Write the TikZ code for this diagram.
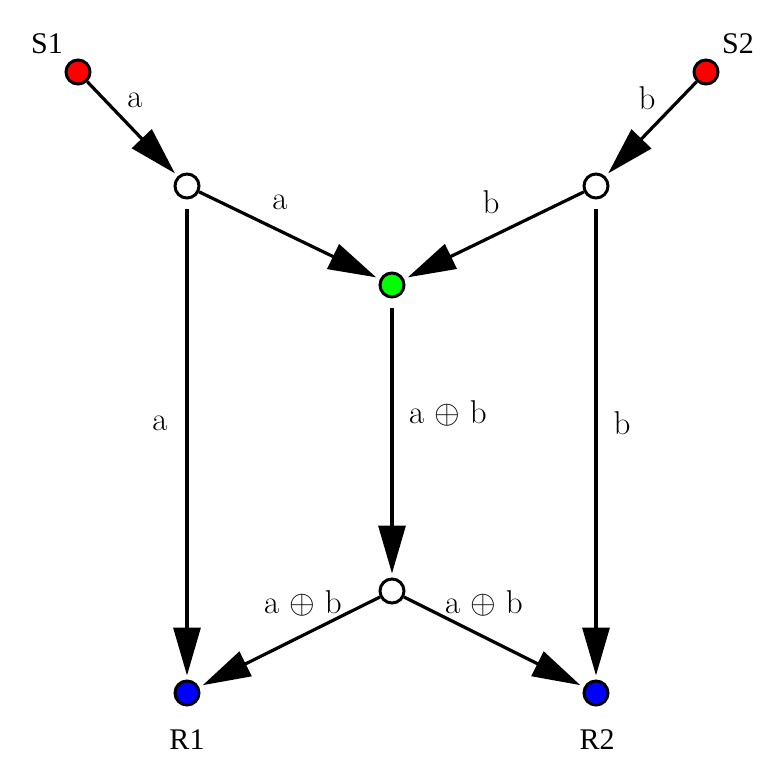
\RequirePackage{fix-cm}
\documentclass[tikz,border=0pt]{standalone}
\usepackage{fontspec}
\newfontfamily\vertexfont{Liberation Serif}
\usetikzlibrary{arrows.meta}
\tikzset{
  vertex/.style={circle, draw=black, line width=3pt, minimum size=24pt, inner sep=0pt},
  flow/.style={line width=3.2pt, -{Triangle[length=48pt,width=27pt]}, shorten >=4pt},
  gap/.style={shorten <=9pt},
  vlabel/.style={font=\vertexfont\fontsize{30}{32}\selectfont},
  elabel/.style={font=\fontsize{33}{36}\selectfont}
}
\begin{document}
\begin{tikzpicture}[x=1pt, y=-1pt]
  \useasboundingbox (0, 0) rectangle (778, 771);
  % vertices
  \node[vertex, fill=red] (s1) at (78, 72) {};
  \node[vertex, fill=red] (s2) at (706, 72) {};
  \node[vertex, fill=white] (u1) at (187, 186) {};
  \node[vertex, fill=white] (u2) at (596, 186) {};
  \node[vertex, fill=green] (mix) at (392, 285) {};
  \node[vertex, fill=white] (u3) at (392, 591) {};
  \node[vertex, fill=blue] (r1) at (187, 693) {};
  \node[vertex, fill=blue] (r2) at (596, 693) {};
  % vertex names
  \node[vlabel] (s1name) at (47, 44) {S1};
  \node[vlabel] (s2name) at (738, 44) {S2};
  \node[vlabel] (r1name) at (187, 740) {R1};
  \node[vlabel] (r2name) at (597, 740) {R2};
  % edges
  \draw[flow] (s1) -- (u1);
  \draw[flow] (s2) -- (u2);
  \draw[flow] (u1) -- (mix);
  \draw[flow] (u2) -- (mix);
  \draw[flow, gap] (u1) -- (r1);
  \draw[flow, gap] (u2) -- (r2);
  \draw[flow, gap] (mix) -- (u3);
  \draw[flow] (u3) -- (r1);
  \draw[flow] (u3) -- (r2);
  % edge labels
  \node[elabel] (l1) at (135, 100) {a};
  \node[elabel] (l2) at (647, 98) {b};
  \node[elabel] (l3) at (280, 202) {a};
  \node[elabel] (l4) at (491, 202) {b};
  \node[elabel] (l5) at (160, 423) {a};
  \node[elabel] (l6) at (622, 423) {b};
  \node[elabel] (l7) at (448, 413) {a $\oplus$ b};
  \node[elabel] (l8) at (303, 603) {a $\oplus$ b};
  \node[elabel] (l9) at (484, 603) {a $\oplus$ b};
\end{tikzpicture}
\end{document}
